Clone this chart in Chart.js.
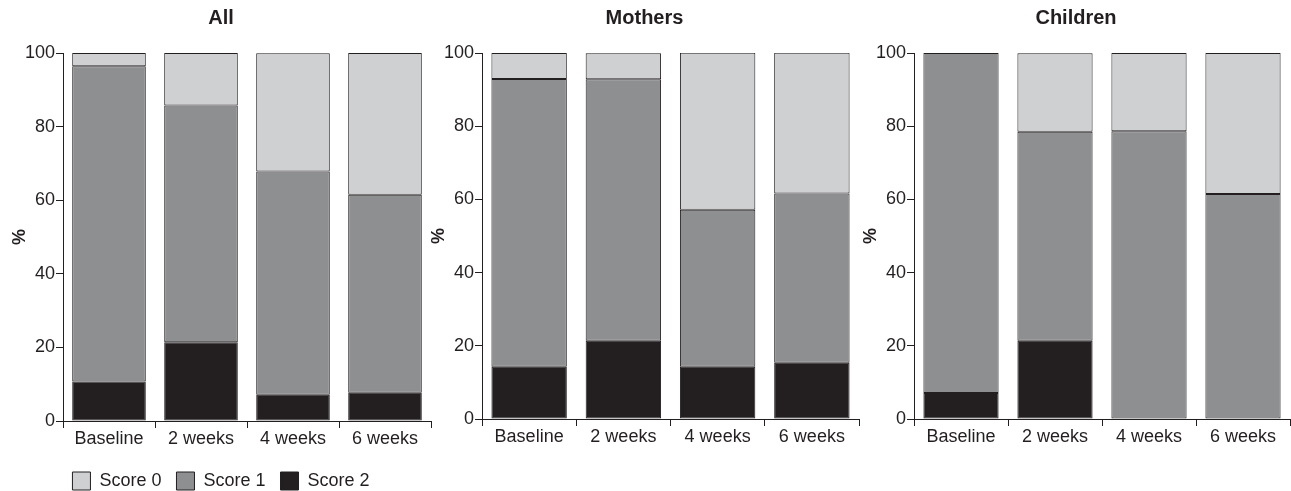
<!DOCTYPE html>
<html>
<head>
<meta charset="utf-8">
<script src="https://cdn.jsdelivr.net/npm/chart.js@4.4.0/dist/chart.umd.min.js"></script>
<style>
  html, body { margin: 0; padding: 0; background: #fff; }
  body { width: 1291px; height: 491px; position: relative; overflow: hidden; }
  .panel { position: absolute; top: 0; height: 491px; }
</style>
</head>
<body>
<div class="panel" style="left:11px;width:421px"><canvas id="chartAll"></canvas></div>
<div class="panel" style="left:430px;width:430px"><canvas id="chartMothers"></canvas></div>
<div class="panel" style="left:862px;width:429px"><canvas id="chartChildren"></canvas></div>
<script>
// Categorías y valores (%)
const categories = ['Baseline', '2 weeks', '4 weeks', '6 weeks'];
const yTicks = [0, 20, 40, 60, 80, 100];

const allScore0 = [3.6, 14.3, 32.1, 38.5];
const allScore1 = [85.7, 64.3, 60.7, 53.8];
const allScore2 = [10.7, 21.4, 7.1, 7.7];

const mothersScore0 = [7.1, 7.1, 42.9, 38.5];
const mothersScore1 = [78.6, 71.4, 42.9, 46.2];
const mothersScore2 = [14.3, 21.4, 14.3, 15.4];

const childrenScore0 = [0, 21.4, 21.4, 38.5];
const childrenScore1 = [92.9, 57.1, 78.6, 61.5];
const childrenScore2 = [7.1, 21.4, 0, 0];

const ink = '#231f20';
const font = 'Liberation Sans, Arial, Helvetica, sans-serif';
Chart.defaults.font.family = font;
Chart.defaults.color = ink;

// Altura fija de la leyenda
const legendHeight = {
    id: 'legendHeight',
    beforeInit(chart) {
        if (!chart.legend) return;
        const origFit = chart.legend.fit;
        chart.legend.fit = function () {
            origFit.call(this);
            this.height = 34;
        };
    }
};

function makeChart(id, title, s0, s1, s2, showLegend) {
    const ds = (label, data, color) => ({
        label: label,
        data: data.map(v => (v === 0 ? null : v)), // sin segmentos vacíos
        backgroundColor: color,
        borderColor: ink,
        borderWidth: 1,
        borderSkipped: false,
        barPercentage: 0.8,
        categoryPercentage: 1.0
    });
    return new Chart(document.getElementById(id), {
        type: 'bar',
        data: {
            labels: categories,
            // Score 2 abajo, Score 0 arriba
            datasets: [
                ds('Score 2', s2, '#231f20'),
                ds('Score 1', s1, '#8e8f91'),
                ds('Score 0', s0, '#cfd0d2')
            ]
        },
        plugins: showLegend ? [legendHeight] : [],
        options: {
            responsive: true,
            maintainAspectRatio: false,
            animation: false,
            layout: { padding: { top: 0, right: 1, bottom: showLegend ? 0 : 36, left: 0 } },
            plugins: {
                tooltip: { enabled: false },
                title: {
                    display: true,
                    text: title,
                    font: { size: 20, weight: 'bold' },
                    color: ink,
                    padding: { top: 6, bottom: 23 }
                },
                legend: {
                    display: showLegend,
                    position: 'bottom',
                    reverse: true,
                    labels: {
                        boxWidth: 18,
                        boxHeight: 18,
                        padding: 15,
                        color: ink,
                        font: { size: 18 }
                    }
                }
            },
            scales: {
                x: {
                    stacked: true,
                    afterFit: s => { s.height = 36; },
                    grid: {
                        offset: true,
                        drawOnChartArea: false,
                        drawTicks: true,
                        tickLength: 7,
                        color: ink
                    },
                    border: { color: ink, width: 1 },
                    ticks: { color: ink, font: { size: 18 }, padding: 0, maxRotation: 0 }
                },
                y: {
                    stacked: true,
                    min: 0,
                    max: 100,
                    afterFit: s => { s.width = 52; },
                    afterBuildTicks: s => { s.ticks = yTicks.map(v => ({ value: v })); },
                    grid: {
                        drawOnChartArea: false,
                        drawTicks: true,
                        tickLength: 7,
                        color: ink
                    },
                    border: { color: ink, width: 1 },
                    ticks: { color: ink, font: { size: 18 }, padding: 1 },
                    title: {
                        display: true,
                        text: '%',
                        color: ink,
                        font: { size: 18, weight: 'bold', lineHeight: 1 },
                        padding: 0
                    }
                }
            }
        }
    });
}

makeChart('chartAll', 'All', allScore0, allScore1, allScore2, true);
makeChart('chartMothers', 'Mothers', mothersScore0, mothersScore1, mothersScore2, false);
makeChart('chartChildren', 'Children', childrenScore0, childrenScore1, childrenScore2, false);
</script>
</body>
</html>
